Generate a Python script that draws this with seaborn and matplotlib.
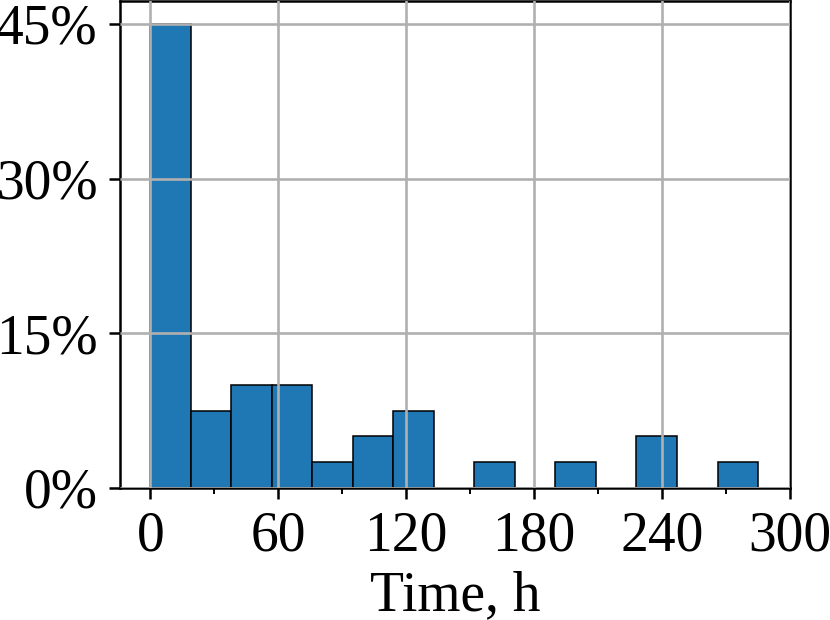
import numpy as np
import seaborn as sns
import matplotlib.pyplot as plt
from matplotlib.ticker import PercentFormatter, MultipleLocator

# Histogram: 15 bins of 19 h, share of cases in %
bin_edges = [0, 19, 38, 57, 76, 95, 114, 133, 152, 171, 190, 209, 228, 247, 266, 285]
share_pct = [45, 7.5, 10, 10, 2.5, 5, 7.5, 0, 2.5, 0, 2.5, 0, 5, 0, 2.5]
x_ticks = [0, 60, 120, 180, 240, 300]
y_ticks = [0, 15, 30, 45]

sns.set_style('ticks')
plt.rcParams['font.family'] = ['Liberation Serif', 'DejaVu Serif']
plt.rcParams['text.color'] = 'black'
plt.rcParams['axes.labelcolor'] = 'black'
plt.rcParams['xtick.color'] = 'black'
plt.rcParams['ytick.color'] = 'black'

bin_mids = [(a + b) / 2 for a, b in zip(bin_edges[:-1], bin_edges[1:])]

fig, ax = plt.subplots(figsize=(8.3, 6.2), dpi=100)
fig.subplots_adjust(left=120 / 830, right=790 / 830, bottom=1 - 488 / 620, top=0.999)

sns.histplot(x=bin_mids, weights=share_pct, bins=bin_edges, stat='count',
             color='#1f77b4', alpha=1, edgecolor='black', linewidth=1.1, ax=ax)

ax.set_xlim(-14.25, 300)
ax.set_ylim(0, 47.25)
ax.set_xticks(x_ticks)
ax.set_yticks(y_ticks)
ax.xaxis.set_minor_locator(MultipleLocator(30))
ax.yaxis.set_major_formatter(PercentFormatter(decimals=0))

# grid is drawn over the bars in the reference
ax.grid(True, color='#b0b0b0', linewidth=1.9)
ax.set_axisbelow(False)
for s in ax.spines.values():
    s.set_linewidth(1.8)
    s.set_color('black')
ax.tick_params(which='major', length=8, width=1.8, labelsize=40, pad=8,
               color='black', labelcolor='black')
ax.tick_params(which='minor', length=4.6, width=1.4, color='black')

ax.set_xlabel('Time, h', fontsize=40, labelpad=6, color='black')
ax.set_ylabel('')

plt.savefig('out.png', dpi=100)
